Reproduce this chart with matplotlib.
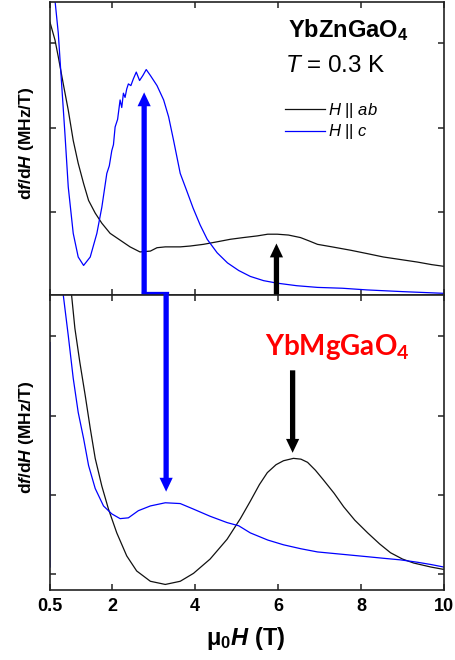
import numpy as np
import matplotlib
matplotlib.use("Agg")
import matplotlib.pyplot as plt

plt.rcParams['font.family'] = ['Liberation Sans', 'DejaVu Sans']
plt.rcParams['mathtext.fontset'] = 'custom'
plt.rcParams['mathtext.rm'] = 'Liberation Sans'
plt.rcParams['mathtext.it'] = 'Liberation Sans:italic'
plt.rcParams['mathtext.bf'] = 'Liberation Sans:bold'
plt.rcParams['mathtext.bfit'] = 'Liberation Sans:bold:italic'
plt.rcParams['mathtext.sf'] = 'Lato:bold'

# ---------------- data: YbZnGaO4 (upper panel) ----------------
zn_ab_field = [0.50, 0.62, 0.70, 0.82, 0.94, 1.06, 1.18, 1.31, 1.43, 1.59, 1.75,
               1.95, 2.19, 2.43, 2.67, 2.92, 3.08, 3.28, 3.64, 3.88, 4.20, 4.53,
               4.85, 5.16, 5.50, 5.75, 5.98, 6.25, 6.54, 6.75, 6.95, 7.30, 7.75,
               8.15, 8.54, 8.95, 9.36, 9.70, 9.99]
zn_ab_dfdh = [3.25, 3.04, 2.84, 2.52, 2.21, 1.85, 1.58, 1.34, 1.14, 0.99, 0.87,
              0.75, 0.67, 0.59, 0.53, 0.54, 0.58, 0.59, 0.59, 0.60, 0.62, 0.65,
              0.68, 0.70, 0.72, 0.74, 0.74, 0.73, 0.70, 0.66, 0.62, 0.59, 0.55,
              0.51, 0.47, 0.44, 0.41, 0.38, 0.36]

zn_c_field = [0.62, 0.70, 0.78, 0.86, 0.94, 1.06, 1.18, 1.31, 1.47, 1.63, 1.75,
              1.87, 1.93, 1.99, 2.03, 2.07, 2.13, 2.19, 2.23, 2.27, 2.31, 2.35,
              2.39, 2.45, 2.51, 2.58, 2.66, 2.74, 2.82, 2.92, 3.08, 3.24, 3.36,
              3.48, 3.64, 3.80, 3.95, 4.12, 4.29, 4.53, 4.78, 5.05, 5.33, 5.65,
              5.98, 6.45, 6.95, 7.55, 8.15, 9.00, 9.99]
zn_c_dfdh = [3.51, 3.12, 2.52, 1.93, 1.30, 0.75, 0.47, 0.37, 0.47, 0.75, 1.06,
             1.46, 1.55, 1.73, 1.80, 2.01, 2.10, 2.33, 2.24, 2.41, 2.36, 2.46,
             2.52, 2.50, 2.58, 2.66, 2.56, 2.62, 2.69, 2.62, 2.50, 2.33, 2.13,
             1.85, 1.46, 1.25, 1.05, 0.85, 0.68, 0.52, 0.40, 0.31, 0.24, 0.19,
             0.16, 0.13, 0.11, 0.10, 0.08, 0.06, 0.04]

# ---------------- data: YbMgGaO4 (lower panel) ----------------
mg_ab_field = [1.02, 1.10, 1.22, 1.35, 1.47, 1.59, 1.75, 1.91, 2.11, 2.35, 2.59,
               2.92, 3.28, 3.64, 3.96, 4.36, 4.77, 5.09, 5.33, 5.55, 5.74, 5.95,
               6.13, 6.37, 6.55, 6.71, 6.90, 7.09, 7.35, 7.58, 7.85, 8.16, 8.45,
               8.71, 9.00, 9.27, 9.68, 9.99]
mg_ab_dfdh = [4.52, 4.10, 3.67, 3.25, 2.84, 2.46, 2.11, 1.82, 1.52, 1.23, 1.04,
              0.91, 0.87, 0.91, 1.01, 1.19, 1.44, 1.70, 1.92, 2.13, 2.28, 2.38,
              2.43, 2.46, 2.45, 2.41, 2.31, 2.19, 2.02, 1.85, 1.68, 1.52, 1.38,
              1.27, 1.19, 1.14, 1.09, 1.06]

# the H||c sweep starts with a vertical segment at the lower field limit
mg_c_field = [0.50, 0.50, np.nan, 0.82, 0.94, 1.06, 1.18, 1.31, 1.43, 1.59, 1.79,
              1.99, 2.19, 2.39, 2.63, 2.92, 3.28, 3.64, 3.96, 4.36, 4.77, 5.05,
              5.33, 5.75, 6.13, 6.55, 6.95, 7.35, 7.75, 8.15, 8.54, 8.95, 9.36,
              9.70, 9.99]
mg_c_dfdh = [1.09, 3.92, np.nan, 4.52, 4.01, 3.47, 3.04, 2.71, 2.37, 2.08, 1.86,
             1.76, 1.70, 1.71, 1.80, 1.86, 1.90, 1.89, 1.82, 1.73, 1.65, 1.61,
             1.52, 1.43, 1.37, 1.32, 1.28, 1.26, 1.24, 1.22, 1.20, 1.18, 1.15,
             1.12, 1.09]

x_ticks = [0.5, 2, 4, 6, 8, 10]
x_ticklabels = ['0.5', '2', '4', '6', '8', '10']

# fields marked by the arrows
zn_c_peak, mg_c_peak = 2.77, 3.30
zn_ab_peak, mg_ab_peak = 5.96, 6.35

BLUE = '#0000ff'
BLACK = '#111111'

fig = plt.figure(figsize=(4.55, 6.6), dpi=100)
W, H = 455, 660
ax_top = fig.add_axes([50 / W, 1 - 295 / H, 394 / W, 293 / H])
ax_bot = fig.add_axes([50 / W, 1 - 590 / H, 394 / W, 295 / H])

ax_top.set_ylim(0.02, 3.49)
ax_top.set_yticks([1, 2, 3])
ax_bot.set_ylim(0.80, 4.52)
ax_bot.set_yticks([1, 2, 3, 4])

for ax in (ax_top, ax_bot):
    ax.set_xlim(0.5, 10)
    ax.set_xticks(x_ticks)
    ax.tick_params(direction='in', top=True, right=True, left=True, bottom=True,
                   length=4, width=1.1, color='#222222')
    ax.set_yticklabels([])
    for s in ax.spines.values():
        s.set_linewidth(1.2)
        s.set_color('#222222')

ax_top.set_xticklabels([])
ax_bot.set_xticklabels(x_ticklabels, fontsize=13, fontweight='bold')
ax_bot.tick_params(axis='x', pad=6)

ax_top.plot(zn_ab_field, zn_ab_dfdh, color=BLACK, lw=0.9, label=r'$\mathit{H}$ || $\mathit{ab}$')
ax_top.plot(zn_c_field, zn_c_dfdh, color=BLUE, lw=0.9, label=r'$\mathit{H}$ || $\mathit{c}$')
ax_bot.plot(mg_ab_field, mg_ab_dfdh, color=BLACK, lw=0.9)
ax_bot.plot(mg_c_field, mg_c_dfdh, color=BLUE, lw=0.9)

leg = ax_top.legend(loc='upper left', bbox_to_anchor=(0.58, 0.685), frameon=False,
                    fontsize=12, handlelength=2.4, handletextpad=0.15,
                    labelspacing=0.15, borderaxespad=0)

ax_top.text(0.604, 0.880, r'YbZnGaO$_\mathbf{4}$', transform=ax_top.transAxes,
            fontsize=17, fontweight='bold', va='baseline', ha='left')
ax_top.text(0.596, 0.761, r'$\mathit{T}$ = 0.3 K', transform=ax_top.transAxes,
            fontsize=17.5, va='baseline', ha='left')
ax_bot.text(0.546, 0.797, r'YbMgGaO$_\mathsf{4}$', transform=ax_bot.transAxes,
            fontsize=20, fontweight='bold', family='Lato', color='#ff0000',
            va='baseline', ha='left')

ylab = r'd$\mathbfit{f}$/d$\mathbfit{H}$ (MHz/T)'
fig.text(27 / W, 1 - 143 / H, ylab, rotation=90, ha='center', va='center',
         fontsize=12.5, fontweight='bold')
fig.text(27 / W, 1 - 437 / H, ylab, rotation=90, ha='center', va='center',
         fontsize=12.5, fontweight='bold')
fig.text(246 / W, 1 - 638 / H, r'$\mathbf{\mu_0}\mathbfit{H}$ (T)', ha='center',
         va='center', fontsize=17, fontweight='bold')

# arrows
arrow_style = 'simple,head_length=1.0,head_width=0.95,tail_width=0.38'
step_y = 0.03  # just above the shared axis line, in upper-panel units
ax_top.annotate('', xy=(zn_c_peak, 2.42), xytext=(zn_c_peak, step_y),
                arrowprops=dict(arrowstyle=arrow_style, mutation_scale=10,
                                fc=BLUE, ec='none', lw=0, shrinkA=0, shrinkB=0),
                annotation_clip=False)
ax_top.plot([zn_c_peak, mg_c_peak], [step_y, step_y], color=BLUE, lw=3.8,
            solid_capstyle='projecting', clip_on=False, zorder=5)
ax_bot.annotate('', xy=(mg_c_peak, 2.04), xycoords=ax_bot.transData,
                xytext=(mg_c_peak, step_y), textcoords=ax_top.transData,
                arrowprops=dict(arrowstyle=arrow_style, mutation_scale=10,
                                fc=BLUE, ec='none', lw=0, shrinkA=0, shrinkB=0),
                annotation_clip=False, zorder=5)
ax_top.annotate('', xy=(zn_ab_peak, 0.63), xycoords=ax_top.transData,
                xytext=(zn_ab_peak, 4.25), textcoords=ax_bot.transData,
                arrowprops=dict(arrowstyle=arrow_style, mutation_scale=10,
                                fc='black', ec='none', lw=0, shrinkA=0, shrinkB=0),
                annotation_clip=False, zorder=5)
ax_bot.annotate('', xy=(mg_ab_peak, 2.53), xytext=(mg_ab_peak, 3.57),
                arrowprops=dict(arrowstyle=arrow_style, mutation_scale=10,
                                fc='black', ec='none', lw=0, shrinkA=0, shrinkB=0),
                annotation_clip=False)

fig.savefig('out.png', dpi=100)
